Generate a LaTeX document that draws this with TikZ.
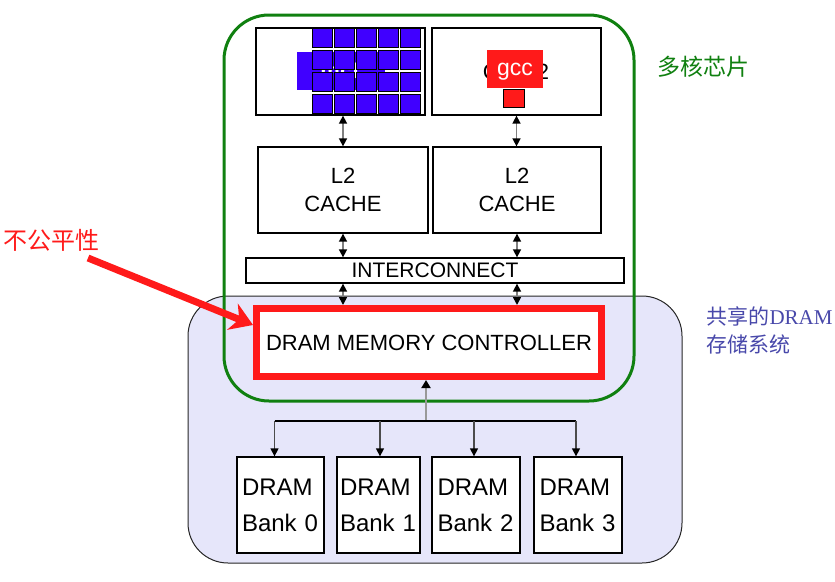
\documentclass[tikz,border=0pt]{standalone}
\usepackage{fontspec}
\setmainfont{Liberation Sans}
\newfontfamily\cjk{Noto Sans CJK SC}
\newfontfamily\dramserif{Liberation Serif}
\usetikzlibrary{arrows.meta}
\definecolor{chipgreen}{RGB}{16,128,16}
\definecolor{sharedbg}{RGB}{230,230,250}
\definecolor{unfairred}{RGB}{255,26,26}
\definecolor{mcfblue}{RGB}{64,0,255}
\definecolor{sharedblue}{RGB}{72,72,170}

\begin{document}
\begin{tikzpicture}[x=1pt,y=-1pt,
  box/.style={draw,fill=white,line width=1.3pt,inner sep=0pt},
  link/.style={draw=gray,line width=1.6pt,
    {Triangle[length=8pt,width=8pt,color=black]}-{Triangle[length=8pt,width=8pt,color=black]}},
  uplink/.style={draw=gray!80,line width=1.8pt,-{Triangle[length=8pt,width=9pt,color=black]}},
  downlink/.style={draw=black!70,line width=1.3pt,-{Triangle[length=8pt,width=8pt,color=black]}},
  tile/.style={draw,line width=1pt,fill=mcfblue},
  bankbox/.style={box,minimum height=96pt,text width=77pt,align=left,
    font=\fontsize{24}{36}\selectfont}]
  \useasboundingbox (0,0) rectangle (835,581);

  % shared DRAM system and multicore chip
  \draw[fill=sharedbg,draw=black!85,line width=1pt,rounded corners=40pt] (188,296) rectangle (682,563);
  \draw[chipgreen,line width=3pt,rounded corners=45pt] (224,15) rectangle (634,401);

  \node[box,minimum width=169pt,minimum height=87pt] (core1) at (340.5,71.5) {};
  \node[box,minimum width=169pt,minimum height=87pt] (core2) at (516.5,71.5) {};

  % core 1 running mcf
  \fill[mcfblue] (297,52) rectangle (385,90);
  \node[white,font=\fontsize{22}{22}\selectfont\bfseries] (mcf) at (340,71) {mcf};
  \foreach \c in {0,...,4}
    \foreach \r in {0,...,3}
      \draw[tile] (312+22*\c,28+22*\r) rectangle ++(20,19);

  % core 2 running gcc
  \node[anchor=base,font=\fontsize{22}{22}\selectfont] (core2txt) at (516,79) {Core 2};
  \fill[unfairred] (487,50) rectangle (543,88);
  \node[anchor=base,text=white,font=\fontsize{23}{23}\selectfont] (gcc) at (515,75) {gcc};
  \draw[fill=unfairred,line width=1pt] (503,89) rectangle (524,107);

  \node[box,minimum width=170pt,minimum height=86pt,align=center,
    font=\fontsize{22}{28}\selectfont] (l2a) at (343,190) {L2\\CACHE};
  \node[box,minimum width=168pt,minimum height=86pt,align=center,
    font=\fontsize{22}{28}\selectfont] (l2b) at (517,190) {L2\\CACHE};
  \node[box,minimum width=378pt,minimum height=25pt,
    font=\fontsize{21}{21}\selectfont] (icn) at (435,270.5) {INTERCONNECT};
  \node[draw=unfairred,fill=white,line width=7pt,minimum width=345pt,minimum height=68pt,
    inner sep=0pt,font=\fontsize{22}{22}\selectfont] (ctrl) at (429,342.5) {DRAM MEMORY CONTROLLER};

  \draw[link] (core1.south -| l2a.north) -- (l2a.north);
  \draw[link] (core2.south) -- (core2.south |- l2b.north);
  \draw[link] (l2a.south) -- (l2a.south |- icn.north);
  \draw[link] (l2b.south) -- (l2b.south |- icn.north);
  \draw[link] (icn.south -| l2a.south) -- (ctrl.north -| l2a.south);
  \draw[link] (icn.south -| l2b.south) -- (ctrl.north -| l2b.south);

  % banks
  \node[bankbox,inner xsep=5pt] (bank0) at (280.5,505) {DRAM\\ Bank 0};
  \node[bankbox,inner xsep=3pt] (bank1) at (378.5,505) {DRAM\\ Bank 1};
  \node[bankbox,inner xsep=5.5pt] (bank2) at (476,505) {DRAM\\ Bank 2};
  \node[bankbox,inner xsep=5.5pt] (bank3) at (578,505) {DRAM\\ Bank 3};

  \coordinate (bus) at (426,421);
  \draw[uplink] (bus) -- (bus |- ctrl.south);
  \draw[line width=1.2pt] ([xshift=-6pt]bank0.north |- bus) -- ([xshift=-2pt]bank3.north |- bus);
  \draw[downlink] ([xshift=-6pt]bank0.north |- bus) -- ([xshift=-6pt]bank0.north);
  \draw[downlink] ([xshift=1.5pt]bank1.north |- bus) -- ([xshift=1.5pt]bank1.north);
  \draw[downlink] ([xshift=-2pt]bank2.north |- bus) -- ([xshift=-2pt]bank2.north);
  \draw[downlink] ([xshift=-2pt]bank3.north |- bus) -- ([xshift=-2pt]bank3.north);

  % labels
  \node[text=chipgreen,font=\cjk\fontsize{23}{23}\selectfont] (chip) at (703,67) {多核芯片};
  \node[text=sharedblue,anchor=west,align=left,font=\cjk\fontsize{21}{28}\selectfont]
    (shared) at (703,330) {共享的{\dramserif DRAM}\\存储系统};
  \node[text=unfairred,font=\cjk\fontsize{24}{24}\selectfont] (unfair) at (52,240) {不公平性};

  \coordinate (unfairtail) at (88,258);
  \draw[unfairred,line width=7pt,-{Stealth[length=22pt,width=28pt]}]
    (unfairtail) -- ([yshift=-20pt]ctrl.north west);
\end{tikzpicture}
\end{document}
